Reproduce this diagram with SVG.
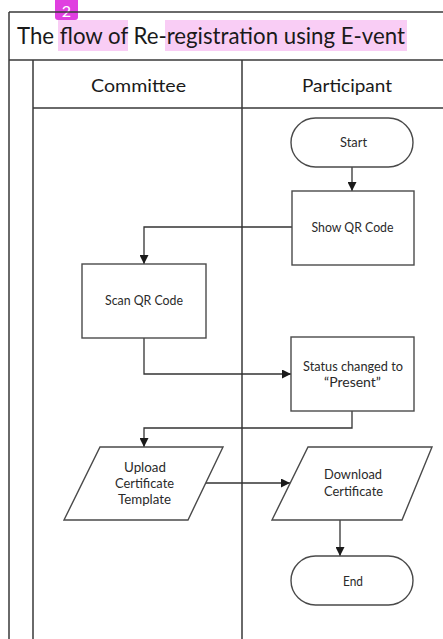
<svg xmlns="http://www.w3.org/2000/svg" width="443" height="639" viewBox="0 0 443 639">
  <style>
    .frame { stroke: #3a3a3a; stroke-width: 1.5; fill: none; }
    .shape { stroke: #4a4a4a; stroke-width: 1.4; fill: #ffffff; }
    .conn { stroke: #333333; stroke-width: 1.3; fill: none; }
    .lbl { font-family: Lato, "Open Sans", "Liberation Sans", sans-serif; font-size: 13px; fill: #2a2a2a; text-anchor: middle; }
    .head { font-family: Lato, "Open Sans", "Liberation Sans", sans-serif; font-size: 17px; fill: #1a1a1a; text-anchor: middle; }
    .hl { fill: #f9cdf5; }
  </style>
  <defs>
    <marker id="arrow" viewBox="0 0 10 10" refX="10" refY="5" markerWidth="9" markerHeight="9" markerUnits="userSpaceOnUse" orient="auto">
      <path d="M0,0 L10,5 L0,10 Z" fill="#1a1a1a"/>
    </marker>
  </defs>

  <rect width="443" height="639" fill="#ffffff"/>

  <!-- title highlights and badge -->
  <rect class="hl" x="58" y="20" width="70" height="31"/>
  <rect class="hl" x="165" y="20" width="242" height="31"/>
  <path d="M55,0 H78 V17 Q78,20 75,20 H58 Q55,20 55,17 Z" fill="#e03fe0"/>
  <text x="66.5" y="16.5" font-family="Lato, 'Liberation Sans', sans-serif" font-size="16" fill="#ffffff" text-anchor="middle">2</text>

  <!-- pool frame and lanes -->
  <g id="pool">
    <path class="frame" d="M9,12 H443 M9,60 H443 M9,12 V639 M33,60 V639 M33,108 H443 M242,60 V639"/>
    <text x="17" y="44" font-family="Lato, 'Open Sans', 'Liberation Sans', sans-serif" font-size="22.5" fill="#1a1a1a" textLength="388" lengthAdjust="spacingAndGlyphs">The flow of Re-registration using E-vent</text>
    <text class="head" x="138.5" y="91.5" textLength="95" lengthAdjust="spacingAndGlyphs">Committee</text>
    <text class="head" x="347" y="91.5" textLength="90" lengthAdjust="spacingAndGlyphs">Participant</text>
  </g>

  <!-- connectors -->
  <g id="connectors">
    <path class="conn" d="M352,167 V191" marker-end="url(#arrow)"/>
    <path class="conn" d="M292,227 H144 V264" marker-end="url(#arrow)"/>
    <path class="conn" d="M144,338 V374 H291" marker-end="url(#arrow)"/>
    <path class="conn" d="M352,411 V428 H144 V447" marker-end="url(#arrow)"/>
    <path class="conn" d="M206,483 H290" marker-end="url(#arrow)"/>
    <path class="conn" d="M340,520 V556" marker-end="url(#arrow)"/>
  </g>

  <!-- nodes -->
  <g id="start">
    <rect class="shape" x="291" y="118" width="122" height="49" rx="24.5"/>
    <text class="lbl" x="353.5" y="147" textLength="27" lengthAdjust="spacingAndGlyphs">Start</text>
  </g>
  <g id="show-qr">
    <rect class="shape" x="292" y="191" width="122" height="74"/>
    <text class="lbl" x="352.5" y="232" textLength="82" lengthAdjust="spacingAndGlyphs">Show QR Code</text>
  </g>
  <g id="scan-qr">
    <rect class="shape" x="82" y="264" width="124" height="74"/>
    <text class="lbl" x="144" y="305" textLength="78" lengthAdjust="spacingAndGlyphs">Scan QR Code</text>
  </g>
  <g id="status">
    <rect class="shape" x="291" y="337" width="123" height="74"/>
    <text class="lbl" x="353" y="371" textLength="100" lengthAdjust="spacingAndGlyphs">Status changed to</text>
    <text class="lbl" x="352.5" y="387" textLength="57" lengthAdjust="spacingAndGlyphs">“Present”</text>
  </g>
  <g id="upload">
    <polygon class="shape" points="100,447 223,447 188,520 64,520"/>
    <text class="lbl" x="145" y="472" textLength="42" lengthAdjust="spacingAndGlyphs">Upload</text>
    <text class="lbl" x="144.5" y="488" textLength="59" lengthAdjust="spacingAndGlyphs">Certificate</text>
    <text class="lbl" x="144.5" y="504" textLength="53" lengthAdjust="spacingAndGlyphs">Template</text>
  </g>
  <g id="download">
    <polygon class="shape" points="308,447 432,447 402,520 272,520"/>
    <text class="lbl" x="353" y="479" textLength="58" lengthAdjust="spacingAndGlyphs">Download</text>
    <text class="lbl" x="353.5" y="496" textLength="59" lengthAdjust="spacingAndGlyphs">Certificate</text>
  </g>
  <g id="end">
    <rect class="shape" x="291" y="556" width="122" height="49" rx="24.5"/>
    <text class="lbl" x="353" y="586" textLength="20" lengthAdjust="spacingAndGlyphs">End</text>
  </g>
</svg>
